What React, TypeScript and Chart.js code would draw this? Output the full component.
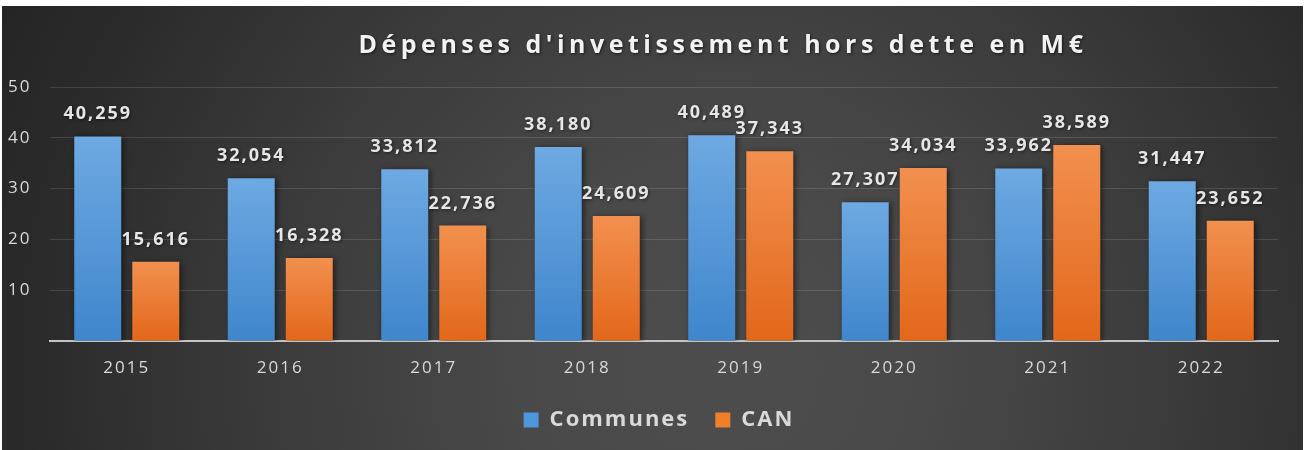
import React, { useEffect, useRef } from 'react';
import { Chart, registerables } from 'chart.js';

Chart.register(...registerables);

const categories = ['2015', '2016', '2017', '2018', '2019', '2020', '2021', '2022'];
const communes = [40.259, 32.054, 33.812, 38.18, 40.489, 27.307, 33.962, 31.447];
const can = [15.616, 16.328, 22.736, 24.609, 37.343, 34.034, 38.589, 23.652];
const yTicks = [10, 20, 30, 40, 50];
const seriesNames = ['Communes', 'CAN'];
const chartTitle = "Dépenses d'invetissement hors dette en M€";

const FONT = '"Open Sans", "DejaVu Sans", sans-serif';
const TEXT = '#d9d9d9';

const fmt = (v: number) => v.toFixed(3).replace('.', ',');

function barGradient(top: string, bottom: string, solid: string) {
  return (ctx: any) => {
    const chart = ctx.chart;
    if (!chart.chartArea || ctx.type !== 'data') return solid;
    const y = chart.scales.y;
    const v = ctx.raw as number;
    const y0 = y.getPixelForValue(0);
    const y1 = y.getPixelForValue(v);
    if (!isFinite(y0) || !isFinite(y1) || y0 === y1) return solid;
    const g = chart.ctx.createLinearGradient(0, y1, 0, y0);
    g.addColorStop(0, top);
    g.addColorStop(1, bottom);
    return g;
  };
}

const spacingPlugin = {
  id: 'spacing',
  beforeUpdate(chart: any) {
    chart.ctx.letterSpacing = '2px';
  },
  beforeLayout(chart: any) {
    chart.ctx.letterSpacing = '2px';
  },
  beforeDraw(chart: any) {
    const ctx = chart.ctx;
    ctx.letterSpacing = '2px';
    const w = chart.width;
    const h = chart.height;
    ctx.save();
    const g = ctx.createRadialGradient(720, 360, 0, 720, 360, 820);
    g.addColorStop(0, '#4d4d4d');
    g.addColorStop(0.25, '#494949');
    g.addColorStop(0.55, '#3b3b3b');
    g.addColorStop(0.85, '#2a2a2a');
    g.addColorStop(1, '#242424');
    ctx.fillStyle = g;
    ctx.fillRect(0, 0, w, h);
    ctx.restore();
  },
};

const titlePlugin = {
  id: 'customTitle',
  afterDraw(chart: any) {
    const ctx = chart.ctx;
    ctx.save();
    ctx.letterSpacing = '4.5px';
    ctx.font = `bold 25px ${FONT}`;
    ctx.fillStyle = '#f2f2f2';
    ctx.textAlign = 'center';
    ctx.textBaseline = 'middle';
    ctx.shadowColor = 'rgba(0,0,0,0.6)';
    ctx.shadowBlur = 3;
    ctx.shadowOffsetX = 1;
    ctx.shadowOffsetY = 1;
    ctx.fillText(chartTitle, 721, 40);
    ctx.restore();
  },
};

const barLabelPlugin = {
  id: 'barLabels',
  beforeDatasetsDraw(chart: any) {
    const ctx = chart.ctx;
    ctx.save();
    ctx.shadowColor = 'rgba(0,0,0,0.55)';
    ctx.shadowBlur = 6;
    ctx.shadowOffsetX = 2;
    ctx.shadowOffsetY = 1;
  },
  afterDatasetsDraw(chart: any) {
    const ctx = chart.ctx;
    ctx.restore();
    ctx.save();
    ctx.font = `bold 18px ${FONT}`;
    ctx.fillStyle = '#e6e6e6';
    ctx.textAlign = 'center';
    ctx.textBaseline = 'alphabetic';
    ctx.shadowColor = 'rgba(0,0,0,0.5)';
    ctx.shadowBlur = 3;
    ctx.shadowOffsetX = 1;
    ctx.shadowOffsetY = 1;
    chart.data.datasets.forEach((ds: any, di: number) => {
      const meta = chart.getDatasetMeta(di);
      meta.data.forEach((bar: any, i: number) => {
        ctx.fillText(fmt(ds.data[i]), bar.x, bar.y - 17);
      });
    });
    ctx.restore();
  },
};

export default function App() {
  const ref = useRef<HTMLCanvasElement | null>(null);

  useEffect(() => {
    if (!ref.current) return;
    const chart = new Chart(ref.current, {
      type: 'bar',
      data: {
        labels: categories,
        datasets: [
          {
            label: seriesNames[0],
            data: communes,
            backgroundColor: barGradient('#6ea9e2', '#3f86cc', '#5b9bd5'),
            borderWidth: 0,
            categoryPercentage: 0.756,
            barPercentage: 0.81,
          },
          {
            label: seriesNames[1],
            data: can,
            backgroundColor: barGradient('#f2904f', '#e2671a', '#ed7d31'),
            borderWidth: 0,
            categoryPercentage: 0.756,
            barPercentage: 0.81,
          },
        ],
      },
      options: {
        responsive: false,
        devicePixelRatio: 1,
        animation: false,
        layout: { padding: { top: 81, right: 25, bottom: 9, left: 38 } },
        plugins: {
          title: { display: false },
          tooltip: { enabled: false },
          legend: {
            position: 'bottom',
            labels: {
              color: TEXT,
              font: { family: FONT, size: 22, weight: 'bold' },
              boxWidth: 15,
              boxHeight: 15,
              padding: 26,
              generateLabels: () => [
                { text: seriesNames[0], fillStyle: '#4f97dc', strokeStyle: 'rgba(0,0,0,0)', lineWidth: 0, hidden: false, datasetIndex: 0, fontColor: TEXT },
                { text: seriesNames[1], fillStyle: '#f07f2a', strokeStyle: 'rgba(0,0,0,0)', lineWidth: 0, hidden: false, datasetIndex: 1, fontColor: TEXT },
              ] as any,
            },
          },
        },
        scales: {
          x: {
            grid: { display: false, drawTicks: false },
            border: { display: true, color: '#c4c4c4', width: 2 },
            ticks: { color: TEXT, font: { family: FONT, size: 17 }, padding: 17 },
            afterFit: (s: any) => {
              s.height = 42;
            },
          },
          y: {
            min: 0,
            max: 50,
            grid: { color: 'rgba(255,255,255,0.13)', lineWidth: 1, drawTicks: false },
            border: { display: false },
            ticks: {
              stepSize: 10,
              color: TEXT,
              font: { family: FONT, size: 17 },
              mirror: true,
              crossAlign: 'near',
              padding: -42,
              callback: (v: any) => (yTicks.includes(Number(v)) ? String(v) : ''),
            },
            afterFit: (s: any) => {
              s.width = 10;
            },
          },
        },
      },
      plugins: [spacingPlugin, titlePlugin, barLabelPlugin],
    });
    return () => chart.destroy();
  }, []);

  return (
    <div style={{ position: 'fixed', top: 6, left: 2, width: 1301, height: 444 }}>
      <canvas ref={ref} width={1301} height={444} style={{ display: 'block', width: 1301, height: 444 }} />
    </div>
  );
}
